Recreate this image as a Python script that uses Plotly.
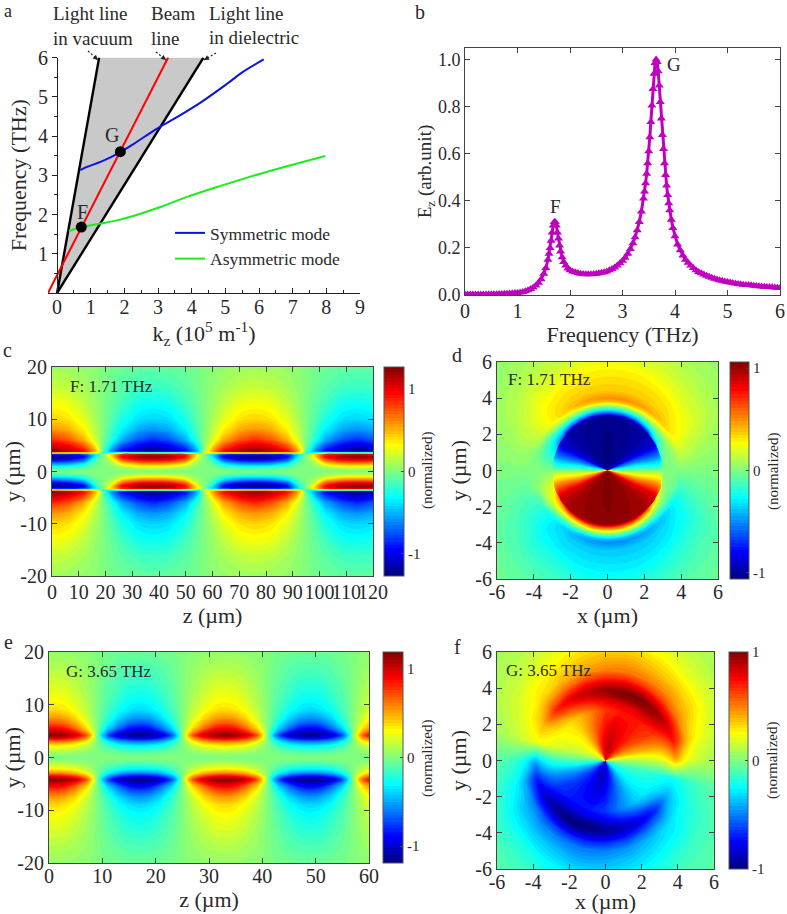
import numpy as np
import plotly.graph_objects as go

W, H = 787, 914
SERIF = "Liberation Serif"
INK = "#2a2a2a"

# ---------- panel a: dispersion ----------
LIGHT_VAC_K = [0, 1.25]
LIGHT_VAC_F = [0, 6]
LIGHT_DIEL_K = [0, 4.35]
LIGHT_DIEL_F = [0, 6]
BEAM_K = [-0.27, 3.3]
BEAM_F = [0, 6]
SYM_K = [0.69, 0.85, 1.29, 1.6, 1.9, 2.28, 2.97, 3.6, 4.26, 5.05, 5.5, 6.14]
SYM_F = [3.13, 3.2, 3.34, 3.46, 3.6, 3.8, 4.19, 4.5, 4.85, 5.33, 5.62, 5.95]
ASYM_K = [0.35, 0.74, 1.29, 1.88, 2.48, 3.07, 3.86, 4.75, 6.04, 7.97]
ASYM_F = [1.58, 1.68, 1.77, 1.87, 2.02, 2.19, 2.45, 2.7, 3.04, 3.49]
POINT_K = [0.72, 1.88]
POINT_F = [1.68, 3.6]

# ---------- panel b: spectrum ----------
FREQ = [0, .05, .1, .15, .2, .25, .3, .35, .4, .45, .5, .55, .6, .65, .7, .75, .8, .85, .9, .95,
        1.0, 1.05, 1.1, 1.15, 1.2, 1.25, 1.3, 1.35, 1.4, 1.45, 1.5, 1.54, 1.58, 1.6, 1.62, 1.64, 1.66, 1.68,
        1.7, 1.72, 1.74, 1.76, 1.78, 1.8, 1.82, 1.85, 1.88, 1.92, 1.96, 2.0, 2.05, 2.1, 2.15, 2.2, 2.25,
        2.3, 2.35, 2.4, 2.45, 2.5, 2.55, 2.6, 2.65, 2.7, 2.75, 2.8, 2.85, 2.9, 2.95,
        3.0, 3.05, 3.1, 3.15, 3.2, 3.24, 3.28, 3.32, 3.36, 3.4, 3.42, 3.44, 3.46, 3.48,
        3.5, 3.52, 3.54, 3.56, 3.58, 3.6, 3.62, 3.64, 3.66, 3.68, 3.7, 3.72, 3.74, 3.76, 3.78, 3.8, 3.82,
        3.84, 3.86, 3.88, 3.9, 3.93, 3.96, 4.0, 4.05, 4.1, 4.15, 4.2, 4.25, 4.3, 4.35, 4.4, 4.45, 4.5,
        4.55, 4.6, 4.65, 4.7, 4.75, 4.8, 4.85, 4.9, 4.95, 5.0, 5.05, 5.1, 5.15, 5.2, 5.25, 5.3, 5.35,
        5.4, 5.45, 5.5, 5.55, 5.6, 5.65, 5.7, 5.75, 5.8, 5.85, 5.9, 5.95, 6.0]
EZ = [.002, .002, .002, .002, .002, .002, .002, .002, .002, .003, .003, .003, .003, .004, .004, .005, .005, .006, .007, .008,
      .009, .011, .013, .016, .02, .025, .032, .04, .052, .067, .09, .115, .15, .175, .2, .23, .265, .295,
      .31, .31, .295, .265, .24, .21, .185, .16, .14, .125, .113, .105, .1, .097, .093, .09, .089,
      .088, .088, .088, .089, .09, .092, .094, .097, .1, .105, .11, .117, .125, .135,
      .145, .158, .175, .195, .22, .245, .275, .31, .355, .41, .44, .475, .515, .56,
      .61, .67, .735, .805, .875, .94, .985, 1.0, .99, .95, .89, .82, .75, .68, .62, .56, .51,
      .465, .425, .39, .36, .32, .285, .25, .215, .19, .168, .15, .137, .125, .115, .105, .098, .092,
      .087, .082, .077, .073, .069, .066, .063, .06, .057, .055, .053, .051, .049, .047, .046, .044, .043,
      .042, .041, .039, .038, .037, .036, .035, .034, .034, .033, .032, .031, .03]

# ---------- panel c: one lobe, upper half ----------
C_Y = [20, 16, 13, 10, 8, 6, 4.6, 3.85, 3.55, 3.25, 2.8, 2.2, 1.6, 1.0, .5, 0]
C_OFFSETS = [0, 6, 12, 15, 17]
C_JOINT_OFFSET = 19
C_LOBE = [
    [.08, .07, .05, .03, .02],
    [.18, .16, .10, .06, .03],
    [.30, .27, .16, .09, .05],
    [.42, .38, .25, .14, .07],
    [.58, .52, .34, .20, .10],
    [.85, .75, .52, .30, .15],
    [1.1, 1.02, .80, .55, .30],
    [1.27, 1.15, .95, .65, .40],
    [0, 0, .05, .2, .25],
    [-1.05, -1.0, -.85, -.5, -.3],
    [-1.27, -1.2, -.95, -.5, -.2],
    [-1.0, -.95, -.7, -.3, -.1],
    [-.65, -.6, -.4, -.15, -.05],
    [-.33, -.3, -.18, -.06, -.02],
    [-.12, -.1, -.05, -.02, 0],
    [0, 0, 0, 0, 0],
]
C_JOINT = [0, 0, 0, 0, 0, .02, .05, .1, .3, 0, 0, 0, 0, 0, 0, 0]
C_CENTRES = [0, 38, 76, 114]
C_SIGNS = [1, -1, 1, -1]
C_JOINT_SIGNS = [1, -1, 1, -1, 1]
C_RANGE = 1.27

# ---------- panel e: one lobe, upper half ----------
E_Y = [20, 17, 14, 11, 9, 7.5, 6.5, 5.5, 4.8, 4.2, 3.6, 3, 2.2, 1.3, .5, 0]
E_OFFSETS = [0, 2, 4, 6, 7]
E_JOINT_OFFSET = 8
E_LOBE = [
    [.05, .05, .04, .03, .01],
    [.12, .11, .09, .05, .03],
    [.20, .19, .14, .08, .04],
    [.29, .27, .20, .11, .06],
    [.38, .35, .27, .15, .08],
    [.55, .50, .38, .20, .10],
    [.70, .65, .50, .28, .13],
    [.90, .85, .65, .40, .20],
    [1.05, 1.0, .85, .55, .30],
    [1.19, 1.14, 1.02, .72, .42],
    [.95, .90, .78, .52, .30],
    [.60, .57, .48, .30, .15],
    [.33, .30, .25, .15, .08],
    [.15, .14, .11, .06, .03],
    [.03, .03, .02, .01, 0],
    [0, 0, 0, 0, 0],
]
E_JOINT = [0] * 16
E_CENTRES = [1, 17, 33, 49, 65]
E_SIGNS = [1, -1, 1, -1, 1]
E_JOINT_SIGNS = [1, 1, 1, 1, 1, 1]
E_RANGE = 1.19

# ---------- panel d: polar table, rows 0..165 deg every 15 deg ----------
D_R = [.02, 1.5, 2.97, 3.03, 3.2, 3.4, 3.6, 3.8, 4.0, 4.4, 5, 5.6, 6.5, 7.5, 8.6]
D_UPPER = [
    [0, 0, 0, 0, 0, 0, 0, 0, 0, 0, 0, 0, 0, 0, 0],
    [-.45, -.45, -.45, -.1, -.03, 0, .04, .08, .15, .14, .1, .07, .05, .03, .01],
    [-.88, -.88, -.88, -.35, -.15, -.02, .08, .2, .3, .27, .22, .17, .1, .05, .02],
    [-1.0, -1.0, -.98, -.7, -.35, -.08, .12, .3, .4, .34, .28, .2, .13, .07, .03],
    [-1.03, -1.03, -1.0, -.9, -.5, -.18, .1, .35, .46, .37, .32, .25, .16, .08, .04],
    [-1.05, -1.04, -1.02, -.92, -.55, -.2, .1, .38, .5, .38, .33, .28, .17, .1, .05],
    [-1.06, -1.06, -1.03, -.95, -.55, -.2, .1, .4, .5, .38, .33, .28, .17, .1, .05],
    [-1.05, -1.04, -1.02, -.92, -.55, -.2, .1, .38, .47, .37, .32, .27, .16, .1, .05],
    [-1.03, -1.03, -1.0, -.9, -.5, -.18, .08, .3, .4, .35, .3, .22, .14, .08, .04],
    [-1.0, -1.0, -.98, -.8, -.45, -.18, .03, .2, .3, .3, .26, .2, .12, .06, .03],
    [-.88, -.88, -.88, -.5, -.35, -.22, -.1, .03, .15, .18, .16, .12, .08, .04, .02],
    [-.45, -.45, -.45, -.2, -.18, -.15, -.1, -.05, 0, .06, .07, .05, .04, .02, .01],
]
D_RANGE = 1.06

# ---------- panel f: polar table, rows 0..165 deg every 15 deg ----------
F_R = [.02, 1, 2, 2.8, 3.2, 3.6, 3.9, 4.2, 4.6, 5, 5.6, 6.5, 7.5, 8.6]
F_UPPER = [
    [.05, .08, .1, .15, .2, .3, .4, .3, .2, .15, .1, .08, .05, .03],
    [.3, .35, .4, .45, .5, .6, .7, .6, .4, .28, .2, .12, .08, .05],
    [.55, .55, .6, .65, .7, .8, .85, .72, .5, .4, .3, .18, .1, .06],
    [.7, .7, .7, .7, .8, .92, .95, .8, .6, .47, .35, .2, .12, .07],
    [.78, .8, .75, .72, .8, .96, 1.0, .88, .65, .5, .38, .25, .14, .08],
    [.85, .87, .8, .7, .8, .97, 1.0, .88, .68, .52, .42, .28, .16, .09],
    [.82, .82, .72, .65, .75, .9, .95, .85, .65, .5, .4, .28, .17, .1],
    [.7, .68, .57, .52, .65, .82, .88, .78, .6, .45, .36, .25, .15, .08],
    [.48, .48, .42, .4, .55, .72, .8, .68, .5, .38, .3, .2, .12, .07],
    [.3, .3, .28, .3, .42, .6, .68, .55, .4, .3, .25, .15, .1, .06],
    [.22, .22, .22, .25, .3, .36, .4, .34, .28, .22, .17, .12, .07, .04],
    [.1, .1, .13, .17, .2, .22, .22, .2, .17, .14, .1, .07, .05, .03],
]
F_RANGE = 1.0

ANGLE_STEP = 15
JET = [[0, "#00007F"], [.125, "#0000FF"], [.375, "#00FFFF"], [.625, "#FFFF00"], [.875, "#FF0000"], [1, "#7F0000"]]

# pixel boxes: left, right, top, bottom
BOX = {
    "a": (48, 360, 57.5, 293), "b": (465, 780, 48, 295),
    "c": (52, 373, 367, 576), "d": (497, 718, 362, 579),
    "e": (49, 369, 652, 863), "f": (497, 714, 652, 869),
}
BAR = {"c": (384, 20, 367, 576), "d": (730, 19, 362, 579), "e": (383, 20, 652, 863), "f": (729, 19, 652, 869)}


def px(x):
    return x / W


def py(y):
    return 1 - y / H


def lobes(centres, signs, joint_signs, offsets, joint_off, lobe, joint, ys):
    lobe = np.array(lobe, float)
    joint = np.array(joint, float)
    zs, cols = [], []
    for i, (c, s) in enumerate(zip(centres, signs)):
        zs.append(c - joint_off)
        cols.append(joint * joint_signs[i])
        for k in range(len(offsets) - 1, 0, -1):
            zs.append(c - offsets[k])
            cols.append(s * lobe[:, k])
        for k in range(len(offsets)):
            zs.append(c + offsets[k])
            cols.append(s * lobe[:, k])
    zs.append(centres[-1] + joint_off)
    cols.append(joint * joint_signs[len(centres)])
    upper = np.array(cols).T  # rows follow ys (descending)
    y_full = np.array(list(ys[:-1]) + [0] + [-v for v in reversed(ys[:-1])], float)
    z_full = np.vstack([upper, upper[-2::-1]])
    order = np.argsort(y_full)
    return np.array(zs, float), y_full[order], z_full[order]


def bar(key, labelled):
    left, thick, top, bot = BAR[key]
    return dict(
        x=px(left), xanchor="left", xpad=0, thickness=thick, thicknessmode="pixels",
        y=py((top + bot) / 2), yanchor="middle", ypad=0, len=(bot - top) / H, lenmode="fraction",
        outlinewidth=1, outlinecolor="#555", tickmode="array", tickvals=labelled, ticktext=[str(v) for v in labelled],
        ticks="inside", ticklen=3, tickwidth=1, tickcolor="#444",
        tickfont=dict(family=SERIF, size=15, color=INK),
    )


def levels(rng):
    step = 2 * rng / 64
    return dict(start=-rng + step / 2, end=rng - step / 2, size=step, coloring="fill", showlines=False)


fig = go.Figure()

# panel a
fig.add_trace(go.Scatter(x=[LIGHT_VAC_K[0], LIGHT_VAC_K[1], LIGHT_DIEL_K[1]], y=[0, 6, 6], fill="toself",
                         fillcolor="#C9C9C9", line=dict(width=0), mode="lines", showlegend=False, xaxis="x", yaxis="y", hoverinfo="skip"))
for kk, ff in ((LIGHT_VAC_K, LIGHT_VAC_F), (LIGHT_DIEL_K, LIGHT_DIEL_F)):
    fig.add_trace(go.Scatter(x=kk, y=ff, mode="lines", line=dict(color="black", width=2.4), showlegend=False, xaxis="x", yaxis="y"))
fig.add_trace(go.Scatter(x=BEAM_K, y=BEAM_F, mode="lines", line=dict(color="#FF0000", width=2), showlegend=False, xaxis="x", yaxis="y"))
fig.add_trace(go.Scatter(x=SYM_K, y=SYM_F, mode="lines", name="Symmetric mode", line=dict(color="#0A14E0", width=2, shape="spline"), xaxis="x", yaxis="y"))
fig.add_trace(go.Scatter(x=ASYM_K, y=ASYM_F, mode="lines", name="Asymmetric mode", line=dict(color="#1EEB1E", width=2, shape="spline"), xaxis="x", yaxis="y"))
fig.add_trace(go.Scatter(x=POINT_K, y=POINT_F, mode="markers", marker=dict(color="black", size=11), showlegend=False, xaxis="x", yaxis="y"))

# panel b
fig.add_trace(go.Scatter(x=FREQ, y=EZ, mode="lines+markers", line=dict(color="#C000C0", width=3),
                         marker=dict(symbol="triangle-up", color="#C000C0", size=8), showlegend=False, xaxis="x2", yaxis="y2"))

# panel c
zc, yc, vc = lobes(C_CENTRES, C_SIGNS, C_JOINT_SIGNS, C_OFFSETS, C_JOINT_OFFSET, C_LOBE, C_JOINT, C_Y)
fig.add_trace(go.Contour(x=zc, y=yc, z=vc, colorscale=JET, zmin=-C_RANGE, zmax=C_RANGE, contours=levels(C_RANGE), autocontour=False,
                         line=dict(width=0), colorbar=bar("c", [-1, 0, 1]), xaxis="x3", yaxis="y3"))

# panel e
ze, ye, ve = lobes(E_CENTRES, E_SIGNS, E_JOINT_SIGNS, E_OFFSETS, E_JOINT_OFFSET, E_LOBE, E_JOINT, E_Y)
fig.add_trace(go.Contour(x=ze, y=ye, z=ve, colorscale=JET, zmin=-E_RANGE, zmax=E_RANGE, contours=levels(E_RANGE), autocontour=False,
                         line=dict(width=0), colorbar=bar("e", [-1, 0, 1]), xaxis="x5", yaxis="y5"))


# polar panels, drawn on a carpet so the table's r and angle stay the grid
def polar(name, radii, table, rng, key, xa, ya):
    n = len(table)
    theta = np.arange(0, 361, ANGLE_STEP, dtype=float)
    t = np.array(table, float)
    if name == "d":
        rows = list(t) + [np.zeros(len(radii))] + [-t[i] for i in range(n - 1, 0, -1)] + [t[0]]
    else:
        # lower half mirrors the upper through the centre with the opposite sign
        rows = list(t) + [-r for r in t] + [t[0]]
    z = np.array(rows)
    rr, tt = np.meshgrid(radii, theta)
    cx = rr * np.cos(np.radians(tt))
    cy = rr * np.sin(np.radians(tt))
    hidden = dict(showgrid=False, showticklabels="none", startline=False, endline=False, smoothing=0,
                  minorgridcount=0, showline=False, linewidth=0)
    fig.add_trace(go.Carpet(carpet=name, a=list(radii), b=list(theta), x=cx, y=cy, aaxis=hidden, baxis=hidden, xaxis=xa, yaxis=ya))
    fig.add_trace(go.Contourcarpet(carpet=name, a=list(radii), b=list(theta), z=z, colorscale=JET, zmin=-rng, zmax=rng,
                                   contours=levels(rng), autocontour=False, line=dict(width=0),
                                   colorbar=bar(key, [-1, 0, 1]), xaxis=xa, yaxis=ya))


polar("d", D_R, D_UPPER, D_RANGE, "d", "x4", "y4")
polar("f", F_R, F_UPPER, F_RANGE, "f", "x6", "y6")


def axis(key, horizontal, rng, ticks, title, standoff, font=20, titlesize=22, direction="inside", mirror="ticks", color="#444", **kw):
    l, r, t, b = BOX[key]
    dom = [px(l), px(r)] if horizontal else [py(b), py(t)]
    extra = {k: v for k, v in kw.items() if k != "decimals"}
    return dict(domain=dom, range=rng, tickmode="array", tickvals=ticks, automargin=False, tickangle=0,
                ticktext=[(f"{v:.1f}" if kw.get("decimals") else str(v)) for v in ticks],
                ticks=direction, ticklen=5, tickwidth=1, tickcolor=color, showgrid=False, zeroline=False,
                showline=True, linecolor=color, linewidth=1, mirror=mirror, layer="above traces",
                tickfont=dict(family=SERIF, size=font, color=INK),
                title=dict(text=title, font=dict(family=SERIF, size=titlesize, color=INK), standoff=standoff),
                **extra)


layout = dict(
    template="none",
    width=W, height=H, margin=dict(l=0, r=0, t=0, b=0, autoexpand=False), paper_bgcolor="white", plot_bgcolor="white",
    font=dict(family=SERIF, color=INK),
    legend=dict(x=px(170), y=py(215), xanchor="left", yanchor="top", bgcolor="rgba(0,0,0,0)", font=dict(family=SERIF, size=17.5, color=INK), itemwidth=30),
)
layout["xaxis"] = axis("a", True, [-0.27, 9], list(range(10)), "k<sub>z</sub> (10<sup>5</sup> m<sup>-1</sup>)", 0, mirror=False, color="#222",
                       anchor="y", ticklabelstandoff=-4, minor=dict(tickvals=[v + .5 for v in range(9)], ticks="inside", ticklen=3, tickcolor="#222"))
layout["yaxis"] = axis("a", False, [0, 6], list(range(1, 7)), "Frequency (THz)", 4, direction="outside", mirror=False, color="#222",
                       anchor="free", position=px(57), minor=dict(tickvals=[v + .5 for v in range(6)], ticks="outside", ticklen=3, tickcolor="#222"))
layout["xaxis2"] = axis("b", True, [0, 6], list(range(7)), "Frequency (THz)", 0, font=20, anchor="y2", ticklabelstandoff=-2)
layout["yaxis2"] = axis("b", False, [0, 1.049], [0, .2, .4, .6, .8, 1.0], "E<sub>z</sub> (arb.unit)", 0, font=18, titlesize=19, anchor="x2", decimals=True)
layout["xaxis3"] = axis("c", True, [0, 120], list(range(0, 121, 10)), "z (µm)", 0, anchor="y3", ticklabelstandoff=-2)
layout["yaxis3"] = axis("c", False, [-20, 20], [-20, -10, 0, 10, 20], "y (µm)", 2, anchor="x3")
layout["xaxis4"] = axis("d", True, [-6, 6], [-6, -4, -2, 0, 2, 4, 6], "x (µm)", 0, anchor="y4", ticklabelstandoff=-5)
layout["yaxis4"] = axis("d", False, [-6, 6], [-6, -4, -2, 0, 2, 4, 6], "y (µm)", 2, anchor="x4")
layout["xaxis5"] = axis("e", True, [0, 60], list(range(0, 61, 10)), "z (µm)", 5, anchor="y5", ticklabelstandoff=-5)
layout["yaxis5"] = axis("e", False, [-20, 20], [-20, -10, 0, 10, 20], "y (µm)", 2, anchor="x5")
layout["xaxis6"] = axis("f", True, [-6, 6], [-6, -4, -2, 0, 2, 4, 6], "x (µm)", 3, anchor="y6", ticklabelstandoff=-5)
layout["yaxis6"] = axis("f", False, [-6, 6], [-6, -4, -2, 0, 2, 4, 6], "y (µm)", 2, anchor="x6")


def note(text, x, y, size=20, angle=0, xanchor="center"):
    return dict(text=text, x=px(x), y=py(y), xref="paper", yref="paper", showarrow=False, textangle=angle,
                xanchor=xanchor, yanchor="middle", font=dict(family=SERIF, size=size, color=INK))


def pointer(x0, y0, x1, y1):
    return dict(type="line", xref="paper", yref="paper", x0=px(x0), y0=py(y0), x1=px(x1), y1=py(y1),
                line=dict(color="#222", width=1.2, dash="2px,2px"))


def head(x0, y0, x1, y1):
    ux, uy = (x1 - x0), (y1 - y0)
    n = (ux * ux + uy * uy) ** .5
    ux, uy = ux / n, uy / n
    a = (x1 - 5 * ux - 2.5 * uy, y1 - 5 * uy + 2.5 * ux)
    b = (x1 - 5 * ux + 2.5 * uy, y1 - 5 * uy - 2.5 * ux)
    path = f"M{px(x1)},{py(y1)} L{px(a[0])},{py(a[1])} L{px(b[0])},{py(b[1])} Z"
    return dict(type="path", xref="paper", yref="paper", path=path, fillcolor="#222", line=dict(width=0))


anns = [
    note("a", 8, 11, 18), note("b", 420, 12), note("c", 7, 350), note("d", 457, 355), note("e", 8, 642), note("f", 457, 647),
    note("Light line", 51, 13, 19, xanchor="left"), note("in vacuum", 51, 38, 19, xanchor="left"),
    note("Beam", 149, 14, 19, xanchor="left"), note("line", 149, 38, 19, xanchor="left"),
    note("Light line", 207, 13, 19, xanchor="left"), note("in dielectric", 207, 37, 19, xanchor="left"),
    note("F", 82, 212, 20), note("G", 112, 135, 20),
    note("F", 555, 206, 19), note("G", 674, 64, 19),
    note("F: 1.71 THz", 68, 386, 17, xanchor="left"), note("F: 1.71 THz", 506, 380, 17, xanchor="left"),
    note("G: 3.65 THz", 64, 671, 17, xanchor="left"), note("G: 3.65 THz", 504, 670, 17, xanchor="left"),
    note("(normalized)", 427, 470, 15, -90), note("(normalized)", 773, 472, 15, -90),
    note("(normalized)", 427, 758, 15, -90), note("(normalized)", 772, 761, 15, -90),
]
layout["annotations"] = anns
POINTERS = [(88, 51, 98, 60), (156, 52, 166, 60), (216, 53, 204, 60)]
layout["shapes"] = [pointer(*p) for p in POINTERS] + [head(*p) for p in POINTERS]
fig.update_layout(**layout)
fig.write_html("out.html", config={"displayModeBar": False}, post_script="document.body.style.margin='0';")
